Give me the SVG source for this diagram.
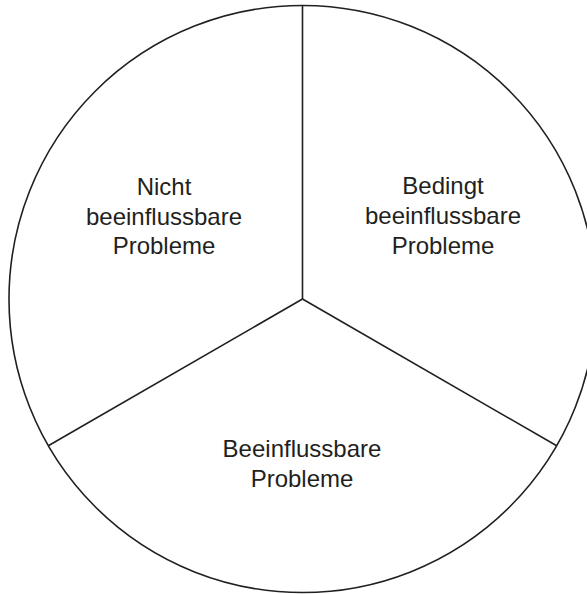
<svg xmlns="http://www.w3.org/2000/svg" width="587" height="594" viewBox="0 0 587 594">
<style>
.ln{fill:none;stroke:#231f20;stroke-width:1.6}
.t{font-family:"Liberation Sans",Arial,sans-serif;font-size:24px;fill:#231f20;text-anchor:middle}
</style>
<rect width="587" height="594" fill="#fff"/>
<g id="connectors">
<circle class="ln" cx="302.5" cy="299" r="293.5"/>
<line class="ln" x1="302.5" y1="5.5" x2="302.5" y2="299"/>
<line class="ln" x1="302.5" y1="299" x2="48.3" y2="445.8"/>
<line class="ln" x1="302.5" y1="299" x2="556.7" y2="445.8"/>
</g>
<g id="sector-left">
<text class="t" x="164" y="195">Nicht</text>
<text class="t" x="164" y="225">beeinflussbare</text>
<text class="t" x="164" y="254">Probleme</text>
</g>
<g id="sector-right">
<text class="t" x="443" y="194">Bedingt</text>
<text class="t" x="443" y="224">beeinflussbare</text>
<text class="t" x="443" y="254">Probleme</text>
</g>
<g id="sector-bottom">
<text class="t" x="302" y="457">Beeinflussbare</text>
<text class="t" x="302" y="487">Probleme</text>
</g>
</svg>
